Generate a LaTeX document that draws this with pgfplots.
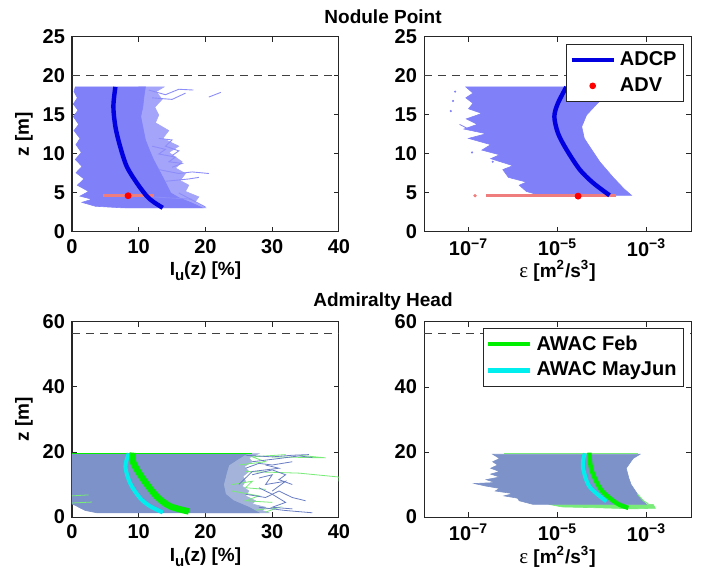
\documentclass[border=0pt]{standalone}
\usepackage{fontspec}
\setmainfont{Liberation Sans}
\newfontfamily\serifgr{Liberation Serif}
\usepackage{pgfplots}
\pgfplotsset{compat=1.18}

\definecolor{cloudA}{RGB}{128,128,248}
\definecolor{cloudB}{RGB}{124,146,200}
\definecolor{cloudBline}{RGB}{105,125,195}
\definecolor{adcp}{RGB}{0,0,225}
\definecolor{advpink}{RGB}{240,125,125}
\definecolor{feb}{RGB}{0,238,0}
\definecolor{febl}{RGB}{120,235,120}
\definecolor{mayjun}{RGB}{0,238,238}

\newcommand{\Iu}{I\raisebox{-0.55ex}{\fontsize{7.5}{8}\selectfont u}(z) [\%]}
\newcommand{\epslab}{{\serifgr\mdseries\fontsize{10.5}{11}\selectfont ε} [m\textsuperscript{2}/s\textsuperscript{3}]}

\pgfplotsset{
  panel/.style={
    scale only axis, width=133.5pt, height=97.5pt, anchor=south west,
    axis line style={black!85, line width=0.5pt},
    tick style={black!85, line width=0.5pt}, major tick length=2.5pt,
    tick label style={font=\bfseries\fontsize{10}{11}\selectfont},
    label style={font=\bfseries\fontsize{9.5}{11}\selectfont},
    /pgf/number format/assume math mode=true,
    xlabel style={at={(axis description cs:0.5,-0.2)}, anchor=center},
    ylabel style={at={(axis description cs:-0.18,0.5)}, anchor=center},
    legend style={draw=black!85, line width=0.5pt, inner sep=1.5pt,
      font=\bfseries\fontsize{10}{11}\selectfont, row sep=0.5pt},
    legend cell align=left,
    legend image code/.code={\draw[mark repeat=2,mark phase=2,##1] plot coordinates {(0pt,0pt) (10.5pt,0pt) (21pt,0pt)};},
  },
}

\begin{document}
\begin{tikzpicture}
\useasboundingbox (0,0) rectangle (352pt,289pt);

\node[font=\bfseries\fontsize{9.5}{11}\selectfont] at (191.5pt,280.5pt) {Nodule Point};
\node[font=\bfseries\fontsize{9.5}{11}\selectfont] at (191.5pt,138pt) {Admiralty Head};

% ---------- Nodule Point, turbulence intensity
\begin{axis}[panel, at={(36pt,173pt)},
  xmin=0, xmax=40, ymin=0, ymax=25,
  xtick={0,10,20,30,40}, ytick={0,5,10,15,20,25},
  xlabel={\Iu}, ylabel={z [m]}]
\addplot[fill=cloudA!72, draw=cloudA!72, line width=0.3pt] coordinates {
 (10,18.6) (13.8,18.6) (12.6,18) (13.5,17) (12.4,16) (13,15) (12.5,14) (14.5,13)
 (13.6,12) (16,11) (14.5,10.2) (16.5,9) (15.5,8.2) (17,7.5) (16.2,6.6)
 (17.5,6) (17,5.2) (19,4.5) (18.4,3.8) (20,3.1) (8,3.1)} --cycle;
\addplot[fill=cloudA, draw=cloudA, line width=0.3pt] coordinates {
 (7.5,3.1) (3.5,3.3) (1.5,3.8) (3,4.2) (1.2,4.6) (2.5,5.2) (0.8,6) (1.8,6.8)
 (0.6,7.6) (1.5,8.4) (0.5,9.3) (1.4,10.2) (0.6,11.2) (1.2,12) (0.3,13) (1,13.8)
 (0.2,14.8) (0.9,15.6) (0.2,16.4) (0.8,17.2) (0.3,18) (0.5,18.6) (11,18.6)
 (10.8,17.5) (10.6,16) (10.3,14.8) (10.6,13.5) (11,11.8) (11.6,10.5) (12.2,9.3)
 (13,8) (13.8,6.7) (14.8,5) (16,4.4) (18,3.7) (19.5,3.1)} --cycle;
\addplot[cloudA!90, line width=0.45pt] coordinates {(11.5,18.2) (14,17.6) (16,18.3) (18.2,18.2)};
\addplot[cloudA!90, line width=0.45pt] coordinates {(12,17.2) (15,17) (17,17.8)};
\addplot[cloudA!90, line width=0.45pt] coordinates {(20.5,17.3) (22.3,17.9)};
\addplot[cloudA!90, line width=0.45pt] coordinates {(12,11) (14,10.6) (13,10) (15.5,9.6) (14.5,9) (16.5,8.8) (15,8.3)};
\addplot[cloudA!90, line width=0.45pt] coordinates {(13,12) (15,11.8) (14,11) (16,10.4) (15,9.8)};
\addplot[cloudA!90, line width=0.45pt] coordinates {(13,8) (16,7.5) (18,7.7) (20.5,7.5)};
\addplot[cloudA!90, line width=0.45pt] coordinates {(14,6.5) (17.5,6.8) (19,7)};
\addplot[cloudA!90, line width=0.45pt] coordinates {(16,5) (18,4.1) (20,3.2)};
\addplot[cloudA!90, line width=0.45pt] coordinates {(12,4.5) (18,4.2)};
\addplot[dashed, dash pattern=on 4pt off 3pt, black!75, line width=0.5pt] coordinates {(0,20) (40,20)};
\addplot[advpink, line width=1.5pt] coordinates {(4.7,4.65) (12.3,4.65)};
\addplot[adcp, line width=2.2pt, smooth] coordinates {
 (13.6,3.1) (12.3,3.8) (11.2,4.6) (9.7,6.3) (8.2,8.4) (7.2,11) (6.5,13.5) (6.2,16.1) (6.5,18.6)};
\addplot[only marks, mark=*, mark size=1.5pt, red] coordinates {(8.4,4.65)};
\end{axis}

% ---------- Nodule Point, dissipation
\begin{axis}[panel, at={(212pt,173pt)},
  xmode=log, xmin=1e-8, xmax=1e-2,
  xtick={1e-7,1e-5,1e-3}, xminorticks=false,
  xticklabels={10\textsuperscript{−7},10\textsuperscript{−5},10\textsuperscript{−3}},
  xlabel={\epslab},
  ymin=0, ymax=25, ytick={0,5,10,15,20,25},
  legend style={at={(axis description cs:0.974,0.964)}, anchor=north east}]
\addlegendimage{adcp, line width=2.2pt}
\addlegendentry{ADCP}
\addlegendimage{only marks, mark=*, mark size=1.4pt, red}
\addlegendentry{ADV}
\addplot[fill=cloudA, draw=cloudA, line width=0.3pt, forget plot] coordinates {
 (3.98e-6,4.7) (2.0e-6,5.2) (1.38e-6,6) (2.0e-6,6.4) (7.9e-7,7) (5.9e-7,8)
 (1.0e-6,8.5) (3.16e-7,9.4) (5.0e-7,9.9) (2.0e-7,10.5) (3.16e-7,11.2) (1.0e-7,12)
 (2.5e-7,12.6) (7.9e-8,13.2) (1.58e-7,13.8) (8.9e-8,14.5) (2.0e-7,15.2) (1.0e-7,15.8)
 (1.26e-7,16.5) (8.7e-8,17.2) (1.26e-7,17.8) (8.7e-8,18.6) (1.48e-4,18.6)
 (1.26e-4,17.5) (7.9e-5,16.5) (4.5e-5,15) (3.5e-5,13.5) (4.0e-5,12) (5.2e-5,11)
 (8.9e-5,9) (1.78e-4,7) (3.16e-4,5.5) (4.6e-4,4.7)} --cycle;
\addplot[cloudA, line width=0.4pt, forget plot] coordinates {(6.3e-8,13.8) (1.0e-7,13.2)};
\addplot[only marks, mark=*, mark size=0.3pt, cloudA, forget plot] coordinates {
 (4.5e-8,16.8) (4.0e-8,15.5) (5.0e-8,18) (3.5e-7,9.0) (1.2e-7,10.2)};
\addplot[dashed, dash pattern=on 4pt off 3pt, black!75, line width=0.5pt, forget plot] coordinates {(1e-8,20) (1e-2,20)};
\addplot[advpink, line width=1.5pt, forget plot] coordinates {(2.5e-7,4.65) (2.1e-4,4.65)};
\addplot[only marks, mark=*, mark size=0.6pt, advpink, forget plot] coordinates {(1.4e-7,4.65)};
\addplot[adcp, line width=2.2pt, smooth, forget plot] coordinates {
 (1.48e-4,4.7) (6.3e-5,6.3) (3.16e-5,8) (1.58e-5,10.6) (1.02e-5,12.7) (8.5e-6,14.8) (1.02e-5,16.5) (1.58e-5,18.6)};
\addplot[only marks, mark=*, mark size=1.5pt, red, forget plot] coordinates {(2.9e-5,4.6)};
\end{axis}

% ---------- Admiralty Head, turbulence intensity
\begin{axis}[panel, at={(36pt,30.5pt)},
  xmin=0, xmax=40, ymin=0, ymax=60,
  xtick={0,10,20,30,40}, ytick={0,20,40,60},
  xlabel={\Iu}, ylabel={z [m]},
  xlabel style={at={(axis description cs:0.5,-0.205)}}]
\addplot[fill=cloudB!70, draw=cloudB!70, line width=0.3pt] coordinates {
 (20,19.5) (28,19.5) (26.5,18.2) (27,17) (25.8,15.5) (26.5,14) (25.6,12.5) (26,11)
 (25.5,9.5) (26.5,8) (26,6.5) (27.5,5) (27,4) (29,3) (28.5,2) (29.5,1.3) (20,1.3)} --cycle;
\addplot[febl, line width=0.4pt] coordinates {(30,18.5) (38,18.2) (34,19)};
\addplot[febl, line width=0.4pt] coordinates {(26,14) (34,13.5) (40,12.3) (40,11)};
\addplot[febl, line width=0.4pt] coordinates {(24,8) (28,6.5) (26,5) (30,4.5)};
\addplot[febl, line width=0.4pt] coordinates {(24,10) (27,11) (26,9) (29,8.5)};
\addplot[febl, line width=0.4pt] coordinates {(27,2) (31,3) (29,1.5)};
\addplot[febl, line width=0.4pt] coordinates {(25,16) (29,17) (27,18.5) (32,19.2)};
\addplot[cloudBline, line width=0.4pt] coordinates {(26,19) (30,18.5) (33,19) (35.5,19.2)};
\addplot[cloudBline, line width=0.4pt] coordinates {(27,17) (31,18) (34,18.8) (36,18.3)};
\addplot[cloudBline, line width=0.4pt] coordinates {(28,12) (30,13) (29,10) (32,11) (30,8)};
\addplot[cloudBline, line width=0.4pt] coordinates {(26,7) (29,6) (31,8) (33,6) (35,5)};
\addplot[cloudBline, line width=0.4pt] coordinates {(28,3) (32,2) (36,1.3)};
\addplot[cloudBline, line width=0.4pt] coordinates {(25,10) (27,14) (31,15) (29,16)};
\addplot[cloudBline, line width=0.4pt] coordinates {(27,13) (30,14.5) (32,13) (31,11.5) (33,10)};
\addplot[cloudBline, line width=0.4pt] coordinates {(28,9) (30,7) (32,4.5) (30,3) (33,2.5)};
\addplot[cloudBline, line width=0.4pt] coordinates {(26,15) (28,16.5) (30,16) (33,17)};
\addplot[fill=cloudB, draw=cloudB, line width=0.3pt] coordinates {
 (3.7,1.3) (2,2) (1.2,2.8) (0.6,3.5) (0,4) (0,19.5) (26.2,19.5) (25,18) (23.5,16)
 (23.2,14) (22.7,10) (23,7) (24.2,5) (26.5,3) (28,1.3)} --cycle;
\addplot[febl, line width=0.4pt] coordinates {(0,4.3) (3,4.6)};
\addplot[febl, line width=0.4pt] coordinates {(0,6.5) (2.5,6.8)};
\addplot[feb, line width=0.5pt] coordinates {(0,19.6) (27,19.6)};
\addplot[dashed, dash pattern=on 4pt off 3pt, black!75, line width=0.5pt] coordinates {(0,56.5) (40,56.5)};
\addplot[mayjun, line width=2pt, smooth] coordinates {
 (13.6,1.4) (11.7,3.3) (10.2,5.8) (8.7,10.4) (8.0,15.5) (8.5,19.6)};
\addplot[feb, line width=3.2pt, smooth] coordinates {
 (17.5,1.7) (14.7,3.3) (12.7,6.3) (10.7,11.5) (9.2,16.6) (9.1,19.8)};
\end{axis}

% ---------- Admiralty Head, dissipation
\begin{axis}[panel, at={(212pt,30.5pt)},
  xmode=log, xmin=1e-8, xmax=1e-2,
  xtick={1e-7,1e-5,1e-3}, xminorticks=false,
  xticklabels={10\textsuperscript{−7},10\textsuperscript{−5},10\textsuperscript{−3}},
  xlabel={\epslab},
  ymin=0, ymax=60, ytick={0,20,40,60},
  xlabel style={at={(axis description cs:0.5,-0.205)}},
  legend style={at={(axis description cs:0.974,0.969)}, anchor=north east}]
\addlegendimage{feb, line width=2.2pt}
\addlegendentry{AWAC Feb}
\addlegendimage{mayjun, line width=2.2pt}
\addlegendentry{AWAC MayJun}
\addplot[fill=febl, draw=febl, line width=0.3pt, forget plot] coordinates {
 (6.3e-6,3.9) (1.26e-5,3.1) (1.0e-4,2.8) (5.0e-4,2.5) (1.58e-3,2.7) (1.41e-3,3.9)} --cycle;
\addplot[fill=cloudB, draw=cloudB, line width=0.3pt, forget plot] coordinates {
 (2.8e-6,3.9) (1.38e-6,5) (1.26e-6,5.8) (6.3e-7,6.5) (1.0e-6,7.2) (4.0e-7,8)
 (5.0e-7,8.8) (2.5e-7,9.5) (1.35e-7,10.3) (4.0e-7,10.6) (2.5e-7,11.5) (5.0e-7,12.3)
 (3.16e-7,13.2) (5.0e-7,14) (3.16e-7,15) (4.5e-7,16) (3.5e-7,17) (5.0e-7,18)
 (3.5e-7,19.3) (7.1e-4,19.3) (5.0e-4,18) (3.5e-4,15) (4.0e-4,12) (4.5e-4,10)
 (6.3e-4,7) (8.3e-4,5) (1.0e-3,3.9)} --cycle;
\addplot[febl, line width=0.5pt, forget plot] coordinates {(6.3e-7,19.4) (6.3e-4,19.4)};
\addplot[febl, line width=0.5pt, forget plot] coordinates {(6.3e-4,7) (8.5e-4,5) (1.1e-3,4)};
\addplot[dashed, dash pattern=on 4pt off 3pt, black!75, line width=0.5pt, forget plot] coordinates {(1e-8,56.5) (1e-2,56.5)};
\addplot[mayjun, line width=2pt, smooth, forget plot] coordinates {
 (1.26e-4,4.8) (5.2e-5,9.4) (3.7e-5,15.5) (4.1e-5,19.6)};
\addplot[feb, line width=2.2pt, smooth, forget plot] coordinates {
 (3.9e-4,2.8) (2.1e-4,4.3) (9.5e-5,8.4) (5.8e-5,14.5) (5.2e-5,19.8)};
\end{axis}
\end{tikzpicture}
\end{document}
